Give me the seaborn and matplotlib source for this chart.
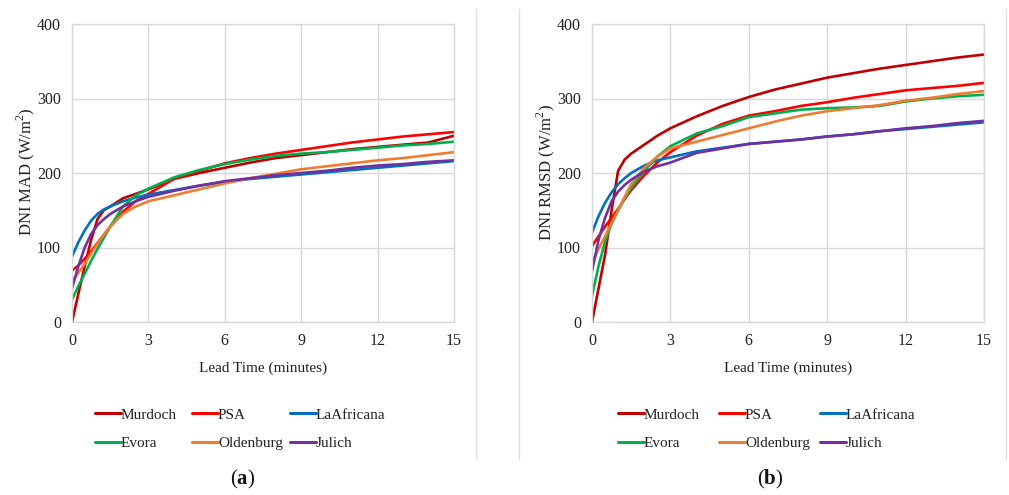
import numpy as np
import pandas as pd
import matplotlib
matplotlib.use("Agg")
import matplotlib.pyplot as plt
from matplotlib.lines import Line2D
import seaborn as sns

# Lead times (minutes) at which the error curves are sampled
lead_time = [0, 0.25, 0.5, 0.75, 1, 1.25, 1.5, 2, 2.5, 3, 4, 5, 6, 7, 8, 9, 10, 11, 12, 13, 14, 15]
sites = ["Murdoch", "PSA", "LaAfricana", "Evora", "Oldenburg", "Julich"]
site_colors = ["#C00000", "#FF0000", "#0070C0", "#00B050", "#ED7D31", "#7030A0"]

# (a) DNI mean absolute deviation, W/m2
mad_murdoch = [0, 38, 75, 110, 138, 150, 155, 166, 172, 178, 192, 200, 207, 214, 220, 224, 228, 232, 235, 238, 241, 250]
mad_psa = [69, 76, 85, 95, 106, 117, 128, 148, 162, 172, 192, 203, 213, 220, 226, 231, 236, 241, 245, 249, 252, 255]
mad_laafricana = [88, 107, 123, 136, 145, 151, 155, 162, 167, 171, 177, 183, 188, 192, 195, 198, 201, 204, 207, 210, 213, 216]
mad_evora = [30, 48, 65, 82, 98, 113, 128, 155, 170, 179, 194, 204, 212, 218, 223, 226, 228, 231, 234, 237, 239, 242]
mad_oldenburg = [55, 66, 78, 92, 105, 117, 128, 145, 155, 162, 170, 178, 186, 193, 199, 205, 209, 213, 217, 220, 224, 228]
mad_julich = [45, 75, 100, 118, 130, 138, 145, 155, 162, 168, 176, 183, 189, 193, 197, 200, 203, 207, 210, 212, 215, 217]

# (b) DNI root mean square deviation, W/m2
rmsd_murdoch = [0, 45, 90, 150, 203, 218, 226, 238, 250, 260, 276, 290, 302, 312, 320, 328, 334, 340, 345, 350, 355, 359]
rmsd_psa = [102, 115, 128, 140, 152, 165, 177, 197, 214, 228, 250, 266, 277, 283, 290, 295, 301, 306, 311, 314, 317, 321]
rmsd_laafricana = [120, 142, 160, 174, 185, 193, 200, 210, 217, 221, 229, 234, 239, 242, 245, 249, 252, 256, 259, 262, 265, 268]
rmsd_evora = [35, 75, 108, 132, 150, 166, 180, 203, 222, 236, 253, 263, 275, 280, 285, 287, 288, 290, 296, 300, 303, 305]
rmsd_oldenburg = [80, 98, 115, 133, 150, 168, 185, 207, 222, 233, 242, 251, 260, 269, 277, 283, 287, 291, 297, 301, 306, 310]
rmsd_julich = [68, 110, 140, 162, 175, 184, 191, 202, 209, 214, 227, 233, 239, 242, 245, 249, 252, 256, 260, 263, 267, 270]

x_ticks = [0, 3, 6, 9, 12, 15]
y_ticks = [0, 100, 200, 300, 400]


def long_frame(series):
    rows = []
    for site, vals in zip(sites, series):
        for t, v in zip(lead_time, vals):
            rows.append({"lead": t, "value": v, "site": site})
    return pd.DataFrame(rows)


df_a = long_frame([mad_murdoch, mad_psa, mad_laafricana, mad_evora, mad_oldenburg, mad_julich])
df_b = long_frame([rmsd_murdoch, rmsd_psa, rmsd_laafricana, rmsd_evora, rmsd_oldenburg, rmsd_julich])

sns.set_theme(style="white")
plt.rcParams["font.family"] = ["Liberation Serif", "DejaVu Serif"]
plt.rcParams["mathtext.fontset"] = "custom"
plt.rcParams["mathtext.bf"] = "Liberation Serif:bold"
plt.rcParams["mathtext.rm"] = "Liberation Serif"

W, H = 1009, 495
fig = plt.figure(figsize=(W / 100, H / 100), dpi=100)
fig.patch.set_facecolor("white")

palette = dict(zip(sites, site_colors))
grid_c = "#d9d9d9"
text_c = "#222222"


def px_axes(left, right, top, bottom):
    return fig.add_axes([left / W, 1 - bottom / H, (right - left) / W, (bottom - top) / H])


panels = [
    (df_a, "DNI MAD (W/m$^2$)", 72, 454, 26, 243, "a", (95, 192, 290)),
    (df_b, "DNI RMSD (W/m$^2$)", 592, 984, 546, 770, "b", (618, 719, 820)),
]

for df, ylab, left, right, ylab_x, tag_x, tag, leg_cols in panels:
    ax = px_axes(left, right, 24, 322)
    sns.lineplot(data=df, x="lead", y="value", hue="site", hue_order=sites,
                 palette=palette, linewidth=1.9, ax=ax, legend=False)
    ax.set_xlim(0, 15)
    ax.set_ylim(0, 400)
    ax.set_xticks(x_ticks)
    ax.set_yticks(y_ticks)
    ax.grid(True, color=grid_c, linewidth=1.0)
    ax.set_axisbelow(True)
    for sp in ax.spines.values():
        sp.set_color(grid_c)
        sp.set_linewidth(1.0)
    ax.tick_params(axis="both", length=0, labelsize=11.5, colors=text_c, pad=8)
    ax.set_xlabel("")
    ax.set_ylabel("")
    fig.text(((left + right) / 2) / W, 1 - 368 / H, "Lead Time (minutes)",
             ha="center", va="center", fontsize=11, color=text_c)
    fig.text(ylab_x / W, 1 - 172 / H, ylab, rotation=90, ha="center", va="center",
             fontsize=12, color=text_c)

    # Legend: three columns of two entries each
    for col, lx in enumerate(leg_cols):
        idx = [col, col + 3]
        handles = [Line2D([], [], color=site_colors[i], linewidth=2.2) for i in idx]
        fig.legend(handles, [sites[i] for i in idx],
                   loc="upper left", bbox_to_anchor=(lx / W - 0.006, 1 - 402 / H),
                   frameon=False, fontsize=11, handlelength=1.7,
                   handletextpad=0.0, labelspacing=0.95,
                   borderaxespad=0, labelcolor=text_c)

    fig.text(tag_x / W, 1 - 479 / H, r"($\mathbf{" + tag + r"}$)", ha="center", va="center",
             fontsize=15, color="#111111")

# Thin panel separators
for xs in (476, 519, 1006):
    fig.add_artist(Line2D([xs / W, xs / W], [1 - 9 / H, 1 - 459 / H], color="#e0e0e0", linewidth=1.0))

fig.savefig("out.png", dpi=100, facecolor="white")
